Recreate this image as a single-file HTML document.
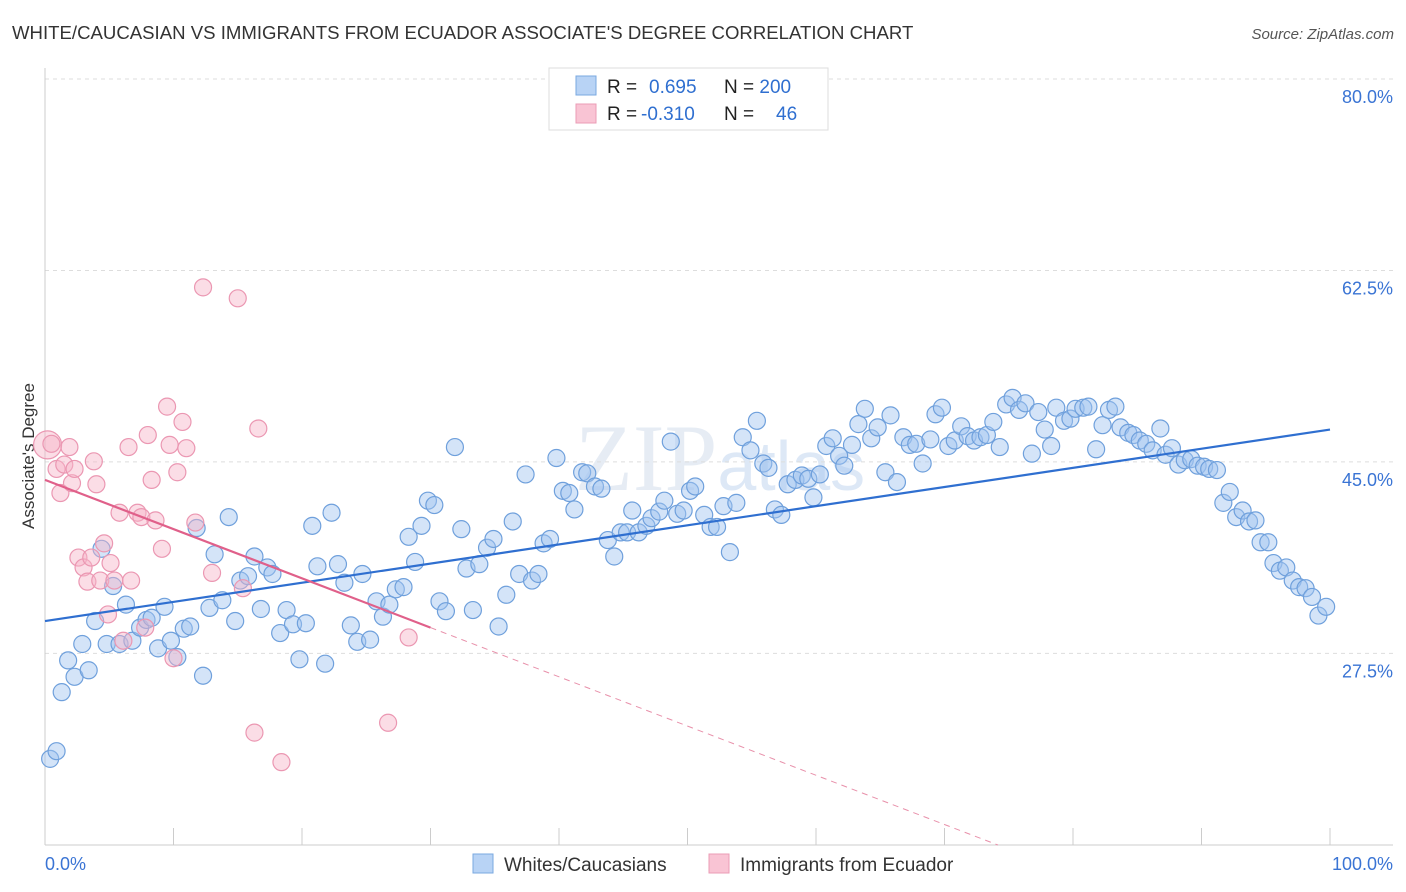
<!DOCTYPE html>
<html><head><meta charset="utf-8"><style>
body{margin:0;background:#fff;font-family:"Liberation Sans",sans-serif;}
#wrap{position:relative;width:1406px;height:892px;overflow:hidden;}
</style></head><body>
<div id="wrap">
<svg id="svg" width="1406" height="892" style="position:absolute;left:0;top:0">
<text x="12" y="39" font-size="18.6" fill="#333">WHITE/CAUCASIAN VS IMMIGRANTS FROM ECUADOR ASSOCIATE'S DEGREE CORRELATION CHART</text>
<text x="1394" y="39" font-size="15" fill="#555" font-style="italic" text-anchor="end">Source: ZipAtlas.com</text>
<text x="720" y="490" font-size="95" fill="#e6ecf4" text-anchor="middle" font-family="Liberation Serif, serif">ZIP<tspan font-family="Liberation Sans, sans-serif" font-size="70" fill="#dde8f6">atlas</tspan></text>
<text transform="translate(34,456) rotate(-90)" font-size="17" fill="#333" text-anchor="middle">Associate's Degree</text>
<g id="grid"></g><g id="axes"></g><g id="marks"></g>
<g>
<rect x="549" y="68" width="279" height="62" fill="#fff" stroke="#ddd"/>
<rect x="576" y="76" width="20" height="19" fill="#b8d3f5" stroke="#7aa8e0"/>
<rect x="576" y="104" width="20" height="19" fill="#f9c4d4" stroke="#eb9cb6"/>
<text x="607" y="93" font-size="19" fill="#222">R = <tspan fill="#2f6fd0" x="649">0.695</tspan><tspan x="724" fill="#222">N = </tspan><tspan fill="#2f6fd0">200</tspan></text>
<text x="607" y="120" font-size="19" fill="#222">R = <tspan fill="#2f6fd0" x="641">-0.310</tspan><tspan x="724" fill="#222">N = </tspan><tspan fill="#2f6fd0" x="776">46</tspan></text>
</g>
<g>
<rect x="473" y="854" width="20" height="19" fill="#b8d3f5" stroke="#7aa8e0"/>
<text x="504" y="871" font-size="19" fill="#333">Whites/Caucasians</text>
<rect x="709" y="854" width="20" height="19" fill="#f9c4d4" stroke="#eb9cb6"/>
<text x="740" y="871" font-size="19" fill="#333">Immigrants from Ecuador</text>
</g>
</svg>
</div>
<script>
const yTicks=[80,62.5,45,27.5];
const yTickLabels=["80.0%","62.5%","45.0%","27.5%"];
const xTicks=[0,10,20,30,40,50,60,70,80,90,100];
const blueX=[0.4,0.9,1.3,1.8,2.3,2.9,3.4,3.9,4.4,4.8,5.3,5.8,6.3,6.8,7.4,7.9,8.3,8.8,9.3,9.8,10.3,10.8,11.3,11.8,12.3,12.8,13.2,13.8,14.3,14.8,15.2,15.8,16.3,16.8,17.3,17.7,18.3,18.8,19.3,19.8,20.3,20.8,21.2,21.8,22.3,22.8,23.3,23.8,24.3,24.7,25.3,25.8,26.3,26.8,27.3,27.9,28.3,28.8,29.3,29.8,30.3,30.7,31.2,31.9,32.4,32.8,33.3,33.8,34.4,34.9,35.3,35.9,36.4,36.9,37.4,37.9,38.4,38.8,39.3,39.8,40.3,40.8,41.2,41.8,42.2,42.8,43.3,43.8,44.3,44.8,45.3,45.7,46.2,46.8,47.2,47.8,48.2,48.7,49.2,49.7,50.2,50.6,51.3,51.8,52.3,52.8,53.3,53.8,54.3,54.9,55.4,55.9,56.3,56.8,57.3,57.8,58.4,58.9,59.4,59.8,60.3,60.8,61.3,61.8,62.2,62.8,63.3,63.8,64.3,64.8,65.4,65.8,66.3,66.8,67.3,67.8,68.3,68.9,69.3,69.8,70.3,70.8,71.3,71.8,72.3,72.8,73.3,73.8,74.3,74.8,75.3,75.8,76.3,76.8,77.3,77.8,78.3,78.7,79.3,79.8,80.2,80.8,81.2,81.8,82.3,82.8,83.3,83.7,84.3,84.7,85.2,85.7,86.2,86.8,87.2,87.7,88.2,88.7,89.2,89.7,90.2,90.6,91.2,91.7,92.2,92.7,93.2,93.7,94.2,94.6,95.2,95.6,96.1,96.6,97.1,97.6,98.1,98.6,99.1,99.7];
const blueY=[19.5,20.2,25.6,28.5,27.0,30.0,27.6,32.1,38.7,30.0,35.3,30.0,33.6,30.3,31.5,32.2,32.4,29.6,33.4,30.3,28.8,31.4,31.6,40.6,27.1,33.3,38.2,34.0,41.6,32.1,35.8,36.2,38.0,33.2,37.0,36.4,31.0,33.1,31.8,28.6,31.9,40.8,37.1,28.2,42.0,37.3,35.6,31.7,30.2,36.4,30.4,33.9,32.5,33.6,35.0,35.2,39.8,37.5,40.8,43.1,42.7,33.9,33.0,48.0,40.5,36.9,33.1,37.3,38.8,39.6,31.6,34.5,41.2,36.4,45.5,35.8,36.4,39.2,39.6,47.0,44.0,43.8,42.3,45.7,45.6,44.4,44.2,39.5,38.0,40.2,40.2,42.2,40.2,40.8,41.5,42.1,43.1,48.5,41.9,42.2,44.0,44.4,41.8,40.7,40.7,42.6,38.4,42.9,48.9,47.7,50.4,46.5,46.1,42.3,41.8,44.6,45.0,45.4,45.1,43.4,45.5,48.1,48.8,47.2,46.3,48.2,50.1,51.5,48.8,49.8,45.7,50.9,44.8,48.9,48.2,48.3,46.5,48.7,51.0,51.6,48.1,48.6,49.9,49.0,48.6,48.9,49.1,50.3,48.0,51.9,52.5,51.4,52.0,47.4,51.2,49.6,48.1,51.6,50.4,50.6,51.5,51.6,51.7,47.8,50.0,51.4,51.7,49.8,49.3,49.1,48.6,48.3,47.7,49.7,47.3,47.9,46.4,46.8,46.9,46.3,46.2,46.0,45.9,42.9,43.9,41.6,42.2,41.2,41.3,39.3,39.3,37.4,36.7,37.0,35.8,35.2,35.1,34.3,32.6,33.4];
const pinkX=[0.2,0.5,0.9,1.2,1.5,1.9,2.1,2.3,2.6,3.0,3.3,3.6,3.8,4.0,4.3,4.6,4.9,5.1,5.4,5.8,6.1,6.5,6.7,7.2,7.5,7.8,8.0,8.3,8.6,9.1,9.5,9.7,10.0,10.3,10.7,11.0,11.7,12.3,13.0,15.0,15.4,16.3,16.6,18.4,26.7,28.3];
const pinkY=[48.2,48.3,46.0,43.8,46.4,48.0,44.7,46.0,37.9,37.0,35.7,37.9,46.7,44.6,35.8,39.2,32.7,37.4,35.8,42.0,30.3,48.0,35.8,42.0,41.6,31.5,49.1,45.0,41.3,38.7,51.7,48.2,28.7,45.7,50.3,47.9,41.1,62.6,36.5,61.6,35.1,21.9,49.7,19.2,22.8,30.6];
const blueTrend=[32.1,49.6];
const pinkTrend=[45.0,31.5];
const pinkTrendSolidEnd=30;

const X0=45,X1=1330;
const xs=v=>X0+(X1-X0)*v/100;
const ys=v=>97+(80-v)*10.94;
const NS="http://www.w3.org/2000/svg";
function mk(tag,attrs,parent){const e=document.createElementNS(NS,tag);for(const k in attrs)e.setAttribute(k,attrs[k]);parent.appendChild(e);return e;}
const grid=document.getElementById('grid'),axes=document.getElementById('axes'),marks=document.getElementById('marks');
yTicks.forEach((t,i)=>{
 const l=mk('line',{x1:45,x2:1393,y1:ys(t)-18,y2:ys(t)-18,stroke:'#ddd','stroke-dasharray':'4,4'},grid);
 
 
 const tx=mk('text',{x:1393,y:ys(t)+6,'font-size':18,fill:'#3a74d4','text-anchor':'end'},grid);
 tx.textContent=yTickLabels[i];
 
 
});
const ax=mk('line',{x1:45,x2:45,y1:68,y2:845,stroke:'#ccc'},axes);


const bx=mk('line',{x1:45,x2:1393,y1:845,y2:845,stroke:'#ccc'},axes);


xTicks.forEach(t=>{
 const l=mk('line',{x1:xs(t),x2:xs(t),y1:828,y2:845,stroke:'#ccc'},axes);
 
 
});
const xl0=mk('text',{x:45,y:870,'font-size':18,fill:'#3a74d4'},axes);xl0.textContent='0.0%';


const xl1=mk('text',{x:1393,y:870,'font-size':18,fill:'#3a74d4','text-anchor':'end'},axes);xl1.textContent='100.0%';



blueX.forEach((x,i)=>{
 const c=mk('circle',{cx:xs(x),cy:ys(blueY[i]),r:8.5,fill:'rgba(160,196,240,0.45)',stroke:'#6fa0dc','stroke-width':1.2},marks);
 
 
});
pinkX.forEach((x,i)=>{
 const c=mk('circle',{cx:xs(x),cy:ys(pinkY[i]),r:i===0?14:8.5,fill:'rgba(247,180,200,0.45)',stroke:'#eb97b2','stroke-width':1.2},marks);
 
 
});
const bt=mk('line',{x1:xs(0),y1:ys(blueTrend[0]),x2:xs(100),y2:ys(blueTrend[1]),stroke:'#2f6fd0','stroke-width':2.2},marks);


const slope=(pinkTrend[1]-pinkTrend[0])/pinkTrendSolidEnd;
const pt=mk('line',{x1:xs(0),y1:ys(pinkTrend[0]),x2:xs(pinkTrendSolidEnd),y2:ys(pinkTrend[1]),stroke:'#e0608a','stroke-width':2.2},marks);


const yBottom=80-(845-97)/10.94;
const xEnd=(yBottom-pinkTrend[0])/slope;
const pd=mk('line',{x1:xs(pinkTrendSolidEnd),y1:ys(pinkTrend[1]),x2:xs(xEnd),y2:845,stroke:'#e890aa','stroke-width':1,'stroke-dasharray':'6,5'},marks);


</script>
</body></html>
